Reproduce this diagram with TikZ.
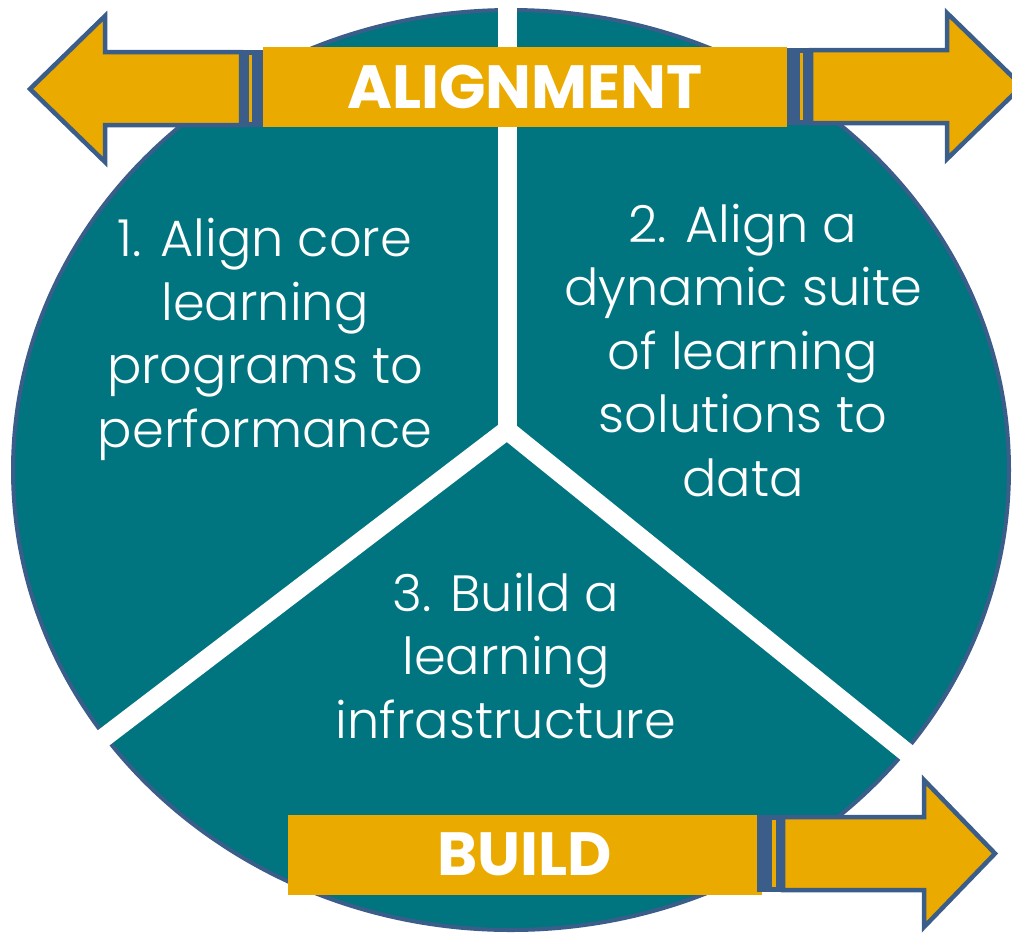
\documentclass[tikz,border=0pt]{standalone}
\usepackage{fontspec}
\setmainfont{Poppins}
\newfontfamily\lightfont{Poppins Light}

\definecolor{sectorteal}{RGB}{0,116,127}
\definecolor{bargold}{RGB}{235,170,0}
\definecolor{edgeblue}{RGB}{58,93,138}

\tikzset{
  arrowshape/.style={fill=bargold,draw=edgeblue,line width=4.5pt,line join=miter},
  sectorgap/.style={draw=white,line width=19pt,line join=miter},
  sectortext/.style={text=white,align=center,anchor=base,inner sep=0pt,
    font=\lightfont\fontsize{51}{63.5}\selectfont},
  barbox/.style={fill=bargold,text=white,inner sep=0pt,minimum height=80pt,
    font=\bfseries\fontsize{61}{61}\selectfont}
}

\begin{document}
\begin{tikzpicture}[x=1pt,y=-1pt]
\useasboundingbox (0,0) rectangle (1012,935);

% the wheel and its three sectors
\draw[fill=sectorteal,draw=edgeblue,line width=4pt] (511,470) ellipse [x radius=498pt,y radius=460pt];
\coordinate (hub) at (507,430);
\draw[sectorgap] (89,749) -- (hub) -- (927,769);
\draw[sectorgap] (hub) -- (507,-5);

% last line sits on the given point
\node[sectortext] (one) at (265,447) {1. Align core\\learning\\programs to\\performance};
\node[sectortext] (two) at (743,496) {2. Align a\\dynamic suite\\of learning\\solutions to\\data};
\node[sectortext] (three) at (506,738) {3. Build a\\learning\\infrastructure};

% alignment arrows, both ways
\draw[arrowshape] (241,52) -- (105,52) -- (105,16) -- (30,89) -- (105,162) -- (105,125) -- (241,125) -- cycle;
\fill[edgeblue] (239,50) rectangle (267,127);
\fill[bargold] (249,55) rectangle (252,122);
\draw[arrowshape] (811,50) -- (947,50) -- (947,13) -- (1022,86) -- (947,159) -- (947,123) -- (811,123) -- cycle;
\fill[edgeblue] (785,48) rectangle (813,125);
\fill[bargold] (800,53) rectangle (803,120);
\node[barbox,minimum width=524pt] (align) at (525,87) {ALIGNMENT};

% build arrow
\node[barbox,minimum width=474pt] (build) at (525,854.5) {BUILD};
\draw[arrowshape] (783,817) -- (924,817) -- (924,780) -- (995,853.5) -- (924,927) -- (924,890) -- (783,890) -- cycle;
\fill[edgeblue] (757,815) rectangle (785,892);
\fill[bargold] (772,820) rectangle (776,887);
\end{tikzpicture}
\end{document}
